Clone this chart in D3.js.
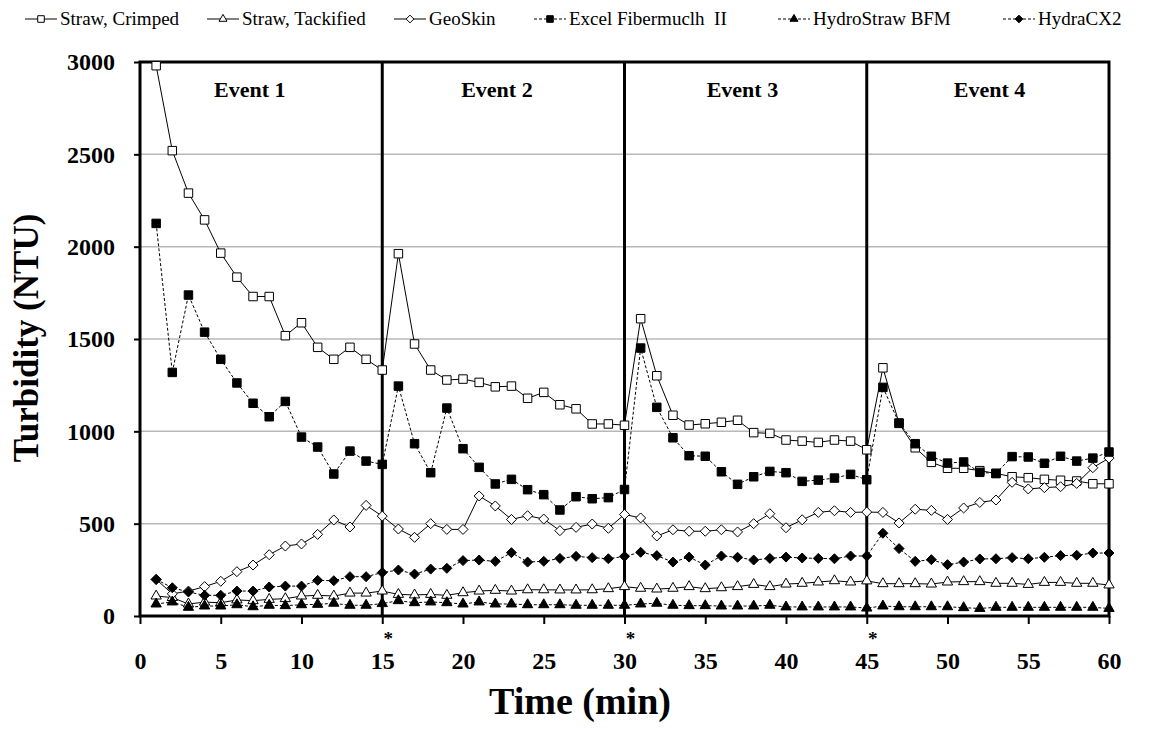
<!DOCTYPE html>
<html>
<head>
<meta charset="utf-8">
<script src="https://cdn.jsdelivr.net/npm/d3@7"></script>
<style>
  html, body { margin: 0; padding: 0; background: #fff; }
  svg { display: block; }
</style>
</head>
<body>
<svg id="chart" width="1156" height="740"></svg>
<script>
// Turbidity readings (NTU) for each minute, 1 to 60
const minutes = d3.range(1, 61);

const strawCrimped = [2980,2520,2290,2145,1965,1835,1730,1730,1518,1588,1455,1390,1455,1390,1332,
  1962,1473,1332,1278,1283,1265,1241,1245,1179,1211,1144,1122,1040,1040,1033,
  1610,1301,1087,1034,1041,1049,1060,993,989,953,947,940,953,947,900,
  1344,1043,911,832,800,800,787,772,754,749,740,735,731,716,716];

const strawTackified = [108,100,65,75,72,87,83,90,94,108,112,108,124,124,135,
  117,114,117,112,126,135,139,135,142,142,141,141,142,148,159,
  150,146,150,159,148,153,159,171,159,173,177,184,191,184,190,
  175,175,175,173,184,186,186,177,177,171,182,182,177,177,168];

const geoSkin = [198,120,135,159,188,240,276,332,379,390,442,520,482,599,541,
  471,426,500,469,469,650,596,523,543,525,462,480,498,475,550,
  531,433,467,459,459,467,455,500,554,478,521,561,570,561,563,
  561,504,578,572,523,585,615,628,724,688,695,700,718,803,855];

const excelFibermulch = [2126,1319,1738,1537,1390,1262,1152,1079,1162,969,915,769,893,839,821,
  1245,933,776,1126,906,805,715,740,684,657,574,646,635,641,685,
  1451,1130,965,868,865,781,713,754,783,776,729,736,747,767,738,
  1238,1045,933,865,828,834,778,772,863,861,827,865,839,855,888];

const hydroStraw = [65,76,47,54,54,61,50,58,56,61,63,69,58,58,67,
  83,72,76,72,65,76,65,65,61,61,61,58,58,58,58,
  65,69,58,56,56,54,54,54,58,49,49,49,49,49,43,
  54,50,50,50,50,45,41,47,47,47,47,47,47,47,41];

const hydraCX2 = [198,153,130,112,112,135,135,157,162,162,193,191,213,213,235,
  249,227,254,258,300,303,296,343,292,296,312,323,316,310,323,
  345,327,292,319,276,325,318,303,312,319,314,312,310,325,325,
  448,365,296,305,278,292,309,310,316,310,318,327,329,341,341];

const seriesNames = ["Straw, Crimped", "Straw, Tackified", "GeoSkin",
  "Excel Fibermuclh  II", "HydroStraw BFM", "HydraCX2"];
const seriesValues = [strawCrimped, strawTackified, geoSkin, excelFibermulch, hydroStraw, hydraCX2];

const xTicks = [0,5,10,15,20,25,30,35,40,45,50,55,60];
const yTicks = [0,500,1000,1500,2000,2500,3000];
const eventBreaks = [15, 30, 45];
const eventLabels = ["Event 1", "Event 2", "Event 3", "Event 4"];
const eventLabelAt = [6.8, 22.1, 37.3, 52.6];

const SERIF = "'Liberation Serif', 'Times New Roman', 'DejaVu Serif', serif";

// square-on-point diamond (equal width and height)
const symbolRhombus = {
  draw(context, size) {
    const r = Math.sqrt(size / 2);
    context.moveTo(0, -r);
    context.lineTo(r, 0);
    context.lineTo(0, r);
    context.lineTo(-r, 0);
    context.closePath();
  }
};

// marker and line style per series
const styles = [
  { shape: d3.symbolSquare,   fill: "#fff", dash: null,  size: 72 },
  { shape: d3.symbolTriangle, fill: "#fff", dash: null,  size: 46 },
  { shape: symbolRhombus,     fill: "#fff", dash: null,  size: 50 },
  { shape: d3.symbolSquare,   fill: "#000", dash: "3,2", size: 72 },
  { shape: d3.symbolTriangle, fill: "#000", dash: "3,2", size: 46 },
  { shape: symbolRhombus,     fill: "#000", dash: "3,2", size: 50 }
];

const svg = d3.select("#chart");
const plotLeft = 140, plotRight = 1109, plotTop = 62, plotBottom = 616;

const x = d3.scaleLinear().domain([0, 60]).range([plotLeft, plotRight]);
const y = d3.scaleLinear().domain([0, 3000]).range([plotBottom, plotTop]);

// horizontal gridlines
svg.append("g")
  .selectAll("line")
  .data(yTicks.filter(v => v > 0 && v < 3000))
  .join("line")
  .attr("x1", plotLeft).attr("x2", plotRight)
  .attr("y1", d => y(d)).attr("y2", d => y(d))
  .attr("stroke", "#b8b8b8").attr("stroke-width", 1.5);

// axes
const xAxis = svg.append("g")
  .attr("transform", `translate(0,${plotBottom})`)
  .call(d3.axisBottom(x).tickValues(xTicks).tickSize(8).tickPadding(28).tickFormat(d3.format("d")));
xAxis.select(".domain").remove();
xAxis.selectAll(".tick line").attr("stroke", "#000").attr("stroke-width", 2);
xAxis.selectAll(".tick text")
  .attr("font-family", SERIF).attr("font-weight", "bold")
  .attr("font-size", 24).attr("fill", "#000");

const yAxis = svg.append("g")
  .attr("transform", `translate(${plotLeft},0)`)
  .call(d3.axisLeft(y).tickValues(yTicks).tickSize(6).tickPadding(19).tickFormat(d3.format("d")));
yAxis.select(".domain").remove();
yAxis.selectAll(".tick line").attr("stroke", "#000").attr("stroke-width", 2);
yAxis.selectAll(".tick text")
  .attr("font-family", SERIF).attr("font-weight", "bold")
  .attr("font-size", 24).attr("fill", "#000");

// plot frame
svg.append("rect")
  .attr("x", plotLeft).attr("y", plotTop)
  .attr("width", plotRight - plotLeft).attr("height", plotBottom - plotTop)
  .attr("fill", "none").attr("stroke", "#000").attr("stroke-width", 3);

// event separators and their asterisks
svg.append("g").selectAll("line")
  .data(eventBreaks).join("line")
  .attr("x1", d => x(d)).attr("x2", d => x(d))
  .attr("y1", plotTop).attr("y2", plotBottom)
  .attr("stroke", "#000").attr("stroke-width", 3);

svg.append("g").selectAll("text")
  .data(eventBreaks).join("text")
  .attr("x", d => x(d) + 6).attr("y", 645)
  .attr("text-anchor", "middle")
  .attr("font-family", SERIF).attr("font-weight", "bold").attr("font-size", 19)
  .text("*");

svg.append("g").selectAll("text")
  .data(eventLabels).join("text")
  .attr("x", (d, i) => x(eventLabelAt[i])).attr("y", 97)
  .attr("text-anchor", "middle")
  .attr("font-family", SERIF).attr("font-weight", "bold").attr("font-size", 22)
  .text(d => d);

// series lines and markers
const line = d3.line().x((d, i) => x(minutes[i])).y(d => y(d));
seriesValues.forEach((vals, s) => {
  const st = styles[s];
  const g = svg.append("g");
  g.append("path")
    .attr("d", line(vals))
    .attr("fill", "none").attr("stroke", "#000").attr("stroke-width", 1)
    .attr("stroke-dasharray", st.dash);
  g.selectAll("path.m")
    .data(vals).join("path")
    .attr("class", "m")
    .attr("transform", (d, i) => `translate(${x(minutes[i])},${y(d)})`)
    .attr("d", d3.symbol().type(st.shape).size(st.size))
    .attr("fill", st.fill).attr("stroke", "#000").attr("stroke-width", 1);
});

// axis titles
svg.append("text")
  .attr("x", 580).attr("y", 714)
  .attr("text-anchor", "middle")
  .attr("font-family", SERIF).attr("font-weight", "bold").attr("font-size", 38)
  .text("Time (min)");

svg.append("text")
  .attr("transform", "translate(38,338) rotate(-90)")
  .attr("text-anchor", "middle")
  .attr("font-family", SERIF).attr("font-weight", "bold").attr("font-size", 35)
  .text("Turbidity (NTU)");

// legend
const legendX = [25, 207, 394, 534, 778, 1003];
const legend = svg.append("g");
seriesNames.forEach((name, s) => {
  const st = styles[s];
  const g = legend.append("g").attr("transform", `translate(${legendX[s]},19)`);
  g.append("line").attr("x1", 0).attr("x2", 32).attr("y1", 0).attr("y2", 0)
    .attr("stroke", "#000").attr("stroke-width", 1).attr("stroke-dasharray", st.dash);
  g.append("path").attr("transform", "translate(16,0)")
    .attr("d", d3.symbol().type(st.shape).size(st.size * 0.6))
    .attr("fill", st.fill).attr("stroke", "#000");
  g.append("text").attr("x", 35).attr("y", 6)
    .attr("font-family", SERIF).attr("font-size", 19)
    .style("white-space", "pre")
    .text(name);
});
</script>
</body>
</html>
